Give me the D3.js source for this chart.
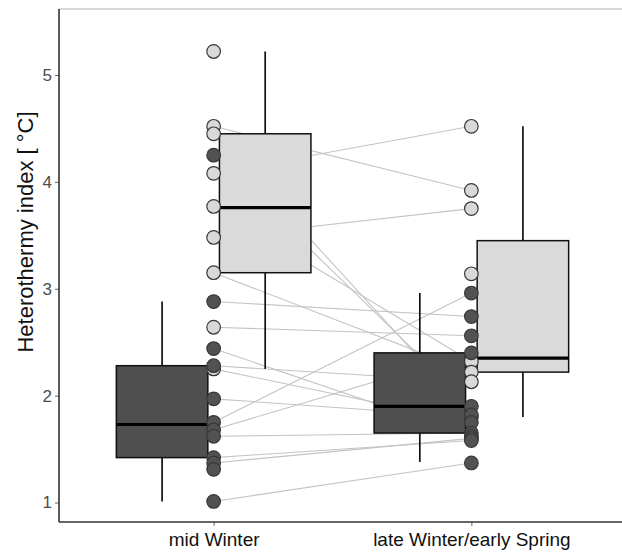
<!DOCTYPE html>
<html><head><meta charset="utf-8">
<script src="https://cdn.jsdelivr.net/npm/d3@7"></script>
<style>body{margin:0;background:#fff}svg{display:block}</style>
</head><body>
<script>
// ---- data ----
const periods = ["mid Winter", "late Winter/early Spring"];
const groups = ["dark", "light"];
// box statistics per period and group: [whiskerLow, q1, median, q3, whiskerHigh]
const boxMidDark   = [1.01, 1.42, 1.73, 2.28, 2.88];
const boxMidLight  = [2.25, 3.15, 3.76, 4.45, 5.22];
const boxLateDark  = [1.38, 1.65, 1.90, 2.40, 2.96];
const boxLateLight = [1.80, 2.22, 2.35, 3.45, 4.52];
// individual points
const midDarkPts   = [4.25, 2.88, 2.44, 2.28, 1.97, 1.75, 1.68, 1.62, 1.42, 1.37, 1.31, 1.01];
const midLightPts  = [5.22, 4.52, 4.45, 4.08, 3.77, 3.48, 3.15, 2.64, 2.25];
const lateDarkPts  = [2.96, 2.74, 2.56, 2.40, 1.90, 1.82, 1.75, 1.65, 1.62, 1.60, 1.58, 1.37];
const lateLightPts = [4.52, 3.92, 3.75, 3.14, 2.32, 2.22, 2.13, 1.80];
// individuals measured in both periods: [mid value, late value]
const pairMid  = [4.52, 4.45, 4.25, 4.08, 3.77, 3.48, 3.15, 2.88, 2.64, 2.44, 2.28, 2.25, 1.97, 1.75, 1.68, 1.62, 1.42, 1.37, 1.01];
const pairLate = [3.92, 1.82, 1.90, 4.52, 2.32, 3.75, 2.22, 2.74, 2.56, 1.62, 2.13, 1.75, 1.80, 2.96, 2.40, 1.65, 1.58, 1.60, 1.37];
const yTicks = [1, 2, 3, 4, 5];

// ---- drawing ----
const W = 622, H = 552;
const mLeft = 59, mRight = 626, mTop = 9, mBottom = 522;
const svg = d3.select("body").append("svg").attr("width", W).attr("height", H);

const x = d3.scalePoint().domain(periods).range([mLeft, mRight]).padding(0.6);
const step = x.step();
const y = d3.scaleLinear().domain([1, 5]).range([502.5, 75]);
const fill = d3.scaleOrdinal().domain(groups).range(["#4f4f4f", "#dadada"]);
const dodge = d3.scaleOrdinal().domain(groups).range([-0.2 * step, 0.2 * step]);
const boxW = 0.355 * step;

// frame
svg.append("line").attr("x1", mLeft).attr("x2", W).attr("y1", mTop).attr("y2", mTop)
  .attr("stroke", "#b0b0b0").attr("stroke-width", 1.2);

// connecting lines
svg.append("g").selectAll("line").data(pairMid.map((m, i) => [m, pairLate[i]])).join("line")
  .attr("x1", x(periods[0])).attr("x2", x(periods[1]))
  .attr("y1", d => y(d[0])).attr("y2", d => y(d[1]))
  .attr("stroke", "#c4c4c4").attr("stroke-width", 1.1);

// boxes
const boxes = [
  {p: periods[0], g: "dark", s: boxMidDark},
  {p: periods[0], g: "light", s: boxMidLight},
  {p: periods[1], g: "dark", s: boxLateDark},
  {p: periods[1], g: "light", s: boxLateLight}
];
const bg = svg.append("g").selectAll("g").data(boxes).join("g")
  .attr("transform", d => `translate(${x(d.p) + dodge(d.g)},0)`);
bg.append("line").attr("x1", 0).attr("x2", 0).attr("y1", d => y(d.s[0])).attr("y2", d => y(d.s[1]))
  .attr("stroke", "#111").attr("stroke-width", 1.7);
bg.append("line").attr("x1", 0).attr("x2", 0).attr("y1", d => y(d.s[3])).attr("y2", d => y(d.s[4]))
  .attr("stroke", "#111").attr("stroke-width", 1.7);
bg.append("rect").attr("x", -boxW / 2).attr("width", boxW)
  .attr("y", d => y(d.s[3])).attr("height", d => y(d.s[1]) - y(d.s[3]))
  .attr("fill", d => fill(d.g)).attr("stroke", "#111").attr("stroke-width", 1.5);
bg.append("line").attr("x1", -boxW / 2).attr("x2", boxW / 2)
  .attr("y1", d => y(d.s[2])).attr("y2", d => y(d.s[2]))
  .attr("stroke", "#000").attr("stroke-width", 3.2);

// points
const pts = [];
midLightPts.forEach(v => pts.push({p: periods[0], g: "light", v}));
midDarkPts.forEach(v => pts.push({p: periods[0], g: "dark", v}));
lateLightPts.forEach(v => pts.push({p: periods[1], g: "light", v}));
lateDarkPts.forEach(v => pts.push({p: periods[1], g: "dark", v}));
svg.append("g").selectAll("circle").data(pts).join("circle")
  .attr("cx", d => x(d.p)).attr("cy", d => y(d.v)).attr("r", 6.8)
  .attr("fill", d => d.g === "dark" ? "#525252" : "#d9d9d9")
  .attr("stroke", "#383838").attr("stroke-width", 1.2);

// axes
const font = "Liberation Sans, Arial, sans-serif";
const yAxis = svg.append("g").attr("transform", `translate(${mLeft},0)`)
  .call(d3.axisLeft(y).tickValues(yTicks).tickSize(4).tickPadding(3).tickFormat(d3.format("d")));
yAxis.select(".domain").remove();
yAxis.selectAll(".tick line").attr("stroke", "#666");
yAxis.selectAll("text").attr("font-family", font)
  .attr("font-size", 17).attr("fill", "#4d4d4d");
svg.append("line").attr("x1", mLeft).attr("x2", mLeft).attr("y1", mTop).attr("y2", mBottom)
  .attr("stroke", "#333").attr("stroke-width", 1.6);

const xAxis = svg.append("g").attr("transform", `translate(0,${mBottom})`)
  .call(d3.axisBottom(x).tickSize(4).tickPadding(7));
xAxis.select(".domain").remove();
xAxis.selectAll(".tick line").attr("stroke", "#666");
xAxis.selectAll("text").attr("font-family", font)
  .attr("font-size", 19).attr("fill", "#111");
svg.append("line").attr("x1", mLeft).attr("x2", W).attr("y1", mBottom).attr("y2", mBottom)
  .attr("stroke", "#333").attr("stroke-width", 1.6);

svg.append("text").attr("transform", `translate(33,232) rotate(-90)`)
  .attr("text-anchor", "middle").attr("font-family", font)
  .attr("font-size", 22).attr("fill", "#111").text("Heterothermy index [ °C]");
</script>
</body></html>
